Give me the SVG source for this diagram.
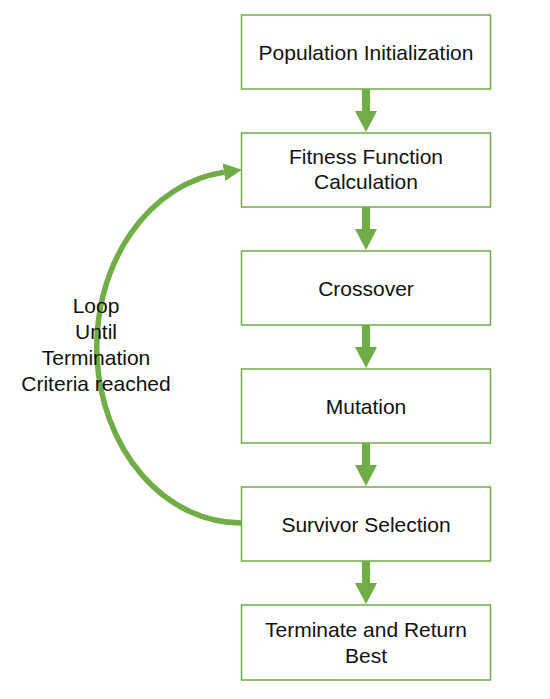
<svg xmlns="http://www.w3.org/2000/svg" width="550" height="699" viewBox="0 0 550 699">
<defs>
<style>
.box{fill:#fff;stroke:#70AD47;stroke-width:1.5}
.t{font-family:"Liberation Sans",Arial,sans-serif;font-size:21px;fill:#111;text-anchor:middle}
.arr{fill:#70AD47}
.loop{fill:none;stroke:#70AD47;stroke-width:5.5}
</style>
<marker id="head" markerUnits="userSpaceOnUse" markerWidth="19" markerHeight="19" refX="0" refY="9" orient="auto">
<path d="M0,0 L18,9 L0,18 Z" fill="#70AD47"/>
</marker>
</defs>
<rect width="550" height="699" fill="#fff"/>
<g id="connectors">
<path class="arr" d="M362,89 L370,89 L370,111 L377,111 L366,132 L355,111 L362,111 Z"/>
<path class="arr" d="M362,207 L370,207 L370,229 L377,229 L366,250 L355,229 L362,229 Z"/>
<path class="arr" d="M362,325 L370,325 L370,347 L377,347 L366,368 L355,347 L362,347 Z"/>
<path class="arr" d="M362,443 L370,443 L370,465 L377,465 L366,486 L355,465 L362,465 Z"/>
<path class="arr" d="M362,561 L370,561 L370,583 L377,583 L366,604 L355,583 L362,583 Z"/>
<path class="loop" d="M241,523 A144,176 0 0 1 224,172.2" marker-end="url(#head)"/>
</g>
<g id="loop-label">
<text class="t" x="96" y="313">Loop</text>
<text class="t" x="96" y="339">Until</text>
<text class="t" x="96" y="365">Termination</text>
<text class="t" x="96" y="391">Criteria reached</text>
</g>
<g id="n1"><rect class="box" x="241.5" y="15" width="249" height="74"/><text class="t" x="366" y="60">Population Initialization</text></g>
<g id="n2"><rect class="box" x="241.5" y="133" width="249" height="74"/><text class="t" x="366" y="164">Fitness Function</text><text class="t" x="366" y="189">Calculation</text></g>
<g id="n3"><rect class="box" x="241.5" y="251" width="249" height="74"/><text class="t" x="366" y="296">Crossover</text></g>
<g id="n4"><rect class="box" x="241.5" y="369" width="249" height="74"/><text class="t" x="366" y="414">Mutation</text></g>
<g id="n5"><rect class="box" x="241.5" y="487" width="249" height="74"/><text class="t" x="366" y="532">Survivor Selection</text></g>
<g id="n6"><rect class="box" x="241.5" y="605" width="249" height="75"/><text class="t" x="366" y="637">Terminate and Return</text><text class="t" x="366" y="663">Best</text></g>
</svg>
